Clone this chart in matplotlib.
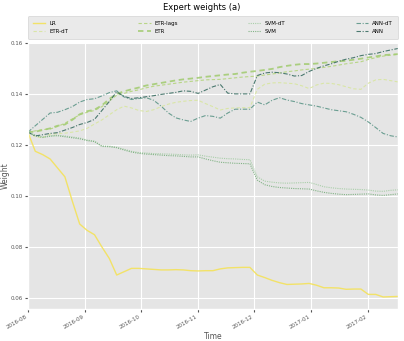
import numpy as np
import pandas as pd
import matplotlib
matplotlib.use("Agg")
import matplotlib.pyplot as plt
import matplotlib.dates as mdates

# sample dates (every 4 days from Aug 1 2016)
dates = pd.date_range("2016-08-01", periods=51, freq="4D")

lr = [0.125, 0.1175, 0.1162, 0.1145, 0.111, 0.1075, 0.098, 0.089, 0.0865, 0.0848,
      0.080, 0.0755, 0.069, 0.0703, 0.0716, 0.0716, 0.0714, 0.0712, 0.071, 0.071,
      0.0711, 0.071, 0.0707, 0.0706, 0.0707, 0.0707, 0.0714, 0.0718, 0.0719, 0.072,
      0.072, 0.069, 0.068, 0.0669, 0.066, 0.0653, 0.0654, 0.0655, 0.0657, 0.065,
      0.064, 0.064, 0.0639, 0.0634, 0.0635, 0.0635, 0.0614, 0.0614, 0.0604, 0.0605, 0.0606]
etr_dt = [0.125, 0.1232, 0.1228, 0.1242, 0.1244, 0.1246, 0.125, 0.1255, 0.1265, 0.1282,
          0.1298, 0.1318, 0.1338, 0.1352, 0.1345, 0.1335, 0.1331, 0.1338, 0.135, 0.136,
          0.1367, 0.1371, 0.1374, 0.1375, 0.1362, 0.135, 0.1337, 0.1343, 0.1345, 0.1346,
          0.1346, 0.1418, 0.1438, 0.1443, 0.1444, 0.1442, 0.144, 0.1432, 0.1421, 0.1435,
          0.1442, 0.1441, 0.1436, 0.1428, 0.142, 0.1418, 0.1442, 0.1455, 0.1457, 0.1452, 0.1447]
etr_lags = [0.125, 0.1255, 0.126, 0.1262, 0.1272, 0.1285, 0.1302, 0.1318, 0.1328, 0.1335,
            0.135, 0.1372, 0.1395, 0.1402, 0.141, 0.1416, 0.1424, 0.143, 0.1434, 0.1438,
            0.1442, 0.1446, 0.1449, 0.1452, 0.1455, 0.1456, 0.1457, 0.146, 0.1463, 0.1466,
            0.1468, 0.147, 0.1474, 0.1478, 0.1482, 0.1487, 0.149, 0.1494, 0.1497, 0.15,
            0.1504, 0.1508, 0.1513, 0.1518, 0.1522, 0.1526, 0.1535, 0.1542, 0.1548, 0.1552, 0.1555]
etr = [0.125, 0.1252, 0.1258, 0.1265, 0.1275, 0.128, 0.1298, 0.132, 0.1332, 0.1338,
       0.1355, 0.138, 0.140, 0.141, 0.1418, 0.1425, 0.1433, 0.1438, 0.1443, 0.1448,
       0.1453, 0.1457, 0.146, 0.1463, 0.1467, 0.147, 0.1473, 0.1476, 0.1478, 0.1483,
       0.1487, 0.149, 0.1494, 0.1498, 0.1505, 0.151, 0.1514, 0.1517, 0.1517, 0.1519,
       0.1522, 0.1525, 0.1528, 0.153, 0.1534, 0.1538, 0.1543, 0.1547, 0.1552, 0.1554, 0.1556]
svm_dt = [0.125, 0.1238, 0.1232, 0.1236, 0.1238, 0.1235, 0.1231, 0.1227, 0.1219, 0.1215,
          0.1196, 0.1195, 0.1191, 0.1183, 0.1175, 0.117, 0.1168, 0.1166, 0.1165, 0.1164,
          0.1163, 0.1161, 0.116, 0.1161, 0.1156, 0.1152, 0.1148, 0.1146, 0.1145, 0.1143,
          0.1142, 0.1075, 0.1058, 0.1054, 0.1051, 0.105, 0.1051, 0.1052, 0.1053, 0.1045,
          0.1036, 0.1032, 0.1029, 0.1027, 0.1026, 0.1025, 0.1023, 0.1019, 0.1018, 0.1022, 0.1024]
svm = [0.125, 0.1236, 0.1229, 0.1234, 0.1236, 0.1232, 0.1228, 0.1224, 0.1217, 0.1213,
       0.1194, 0.1193, 0.1189, 0.118, 0.1172, 0.1167, 0.1164, 0.1162, 0.116, 0.1158,
       0.1157, 0.1155, 0.1153, 0.1153, 0.1145, 0.1138, 0.1132, 0.113, 0.1128, 0.1127,
       0.1126, 0.1062, 0.1044, 0.1037, 0.1033, 0.1031, 0.1029, 0.1028, 0.1027, 0.102,
       0.1014, 0.101, 0.1007, 0.1005, 0.1006, 0.1007, 0.1008, 0.1004, 0.1002, 0.1005, 0.1008]
ann_dt = [0.125, 0.1275, 0.130, 0.1325, 0.1328, 0.1338, 0.135, 0.1368, 0.1378, 0.1381,
          0.1392, 0.1405, 0.1412, 0.1388, 0.1378, 0.1382, 0.1385, 0.1375, 0.1352, 0.1325,
          0.1306, 0.1298, 0.1292, 0.1305, 0.1315, 0.1312, 0.1305, 0.1325, 0.134, 0.134,
          0.134, 0.1368, 0.1357, 0.1375, 0.1385, 0.1376, 0.137, 0.1362, 0.1357, 0.1352,
          0.1345, 0.1338, 0.1334, 0.133, 0.132, 0.1308, 0.129, 0.1268, 0.1245, 0.1236, 0.1231]
ann = [0.125, 0.1235, 0.124, 0.1245, 0.1248, 0.1258, 0.1268, 0.128, 0.1288, 0.130,
       0.1335, 0.137, 0.1408, 0.139, 0.1382, 0.1385, 0.1389, 0.1393, 0.1398, 0.1402,
       0.1406, 0.1412, 0.141, 0.1402, 0.1415, 0.1428, 0.1437, 0.1403, 0.140, 0.140,
       0.140, 0.1472, 0.1482, 0.1485, 0.1483, 0.1478, 0.147, 0.1472, 0.1488, 0.150,
       0.151, 0.1518, 0.1528, 0.1536, 0.1542, 0.155, 0.1555, 0.1558, 0.1566, 0.1572, 0.1578]

labels = ["LR", "ETR-dT", "ETR-lags", "ETR", "SVM-dT", "SVM", "ANN-dT", "ANN"]
series = [lr, etr_dt, etr_lags, etr, svm_dt, svm, ann_dt, ann]
colors = ["#f4e25a", "#d8e5a0", "#b3d47c", "#a4cc74", "#a3cca3", "#78ae7c", "#5d9688", "#3a6d62"]
styles = ["-", (0, (3, 2)), (0, (3, 2)), (0, (3, 2)), (0, (1, 1)), (0, (1, 1)), (0, (4, 1.5, 1, 1.5)), (0, (4, 1.5, 1, 1.5))]
widths = [1.0, 0.8, 0.8, 1.3, 0.8, 0.8, 0.8, 0.8]

plt.style.use("ggplot")
fig = plt.figure(figsize=(4.04, 3.41), dpi=100)
ax = fig.add_axes([0.069, 0.094, 0.916, 0.784])

for vals, lab, c, ls, lw in zip(series, labels, colors, styles, widths):
  ax.plot(dates, vals, color=c, linestyle=ls, linewidth=lw, label=lab, alpha=0.9)

ax.set_xlim(dates[0], dates[-1])
ax.set_ylim(0.0557, 0.1605)
ax.set_yticks([0.06, 0.08, 0.10, 0.12, 0.14, 0.16])
ax.yaxis.set_major_formatter(plt.FormatStrFormatter("%.2f"))
ax.xaxis.set_major_locator(mdates.MonthLocator())
ax.xaxis.set_major_formatter(mdates.DateFormatter("%Y-%m"))
ax.tick_params(labelsize=4, length=2, pad=1.5, colors="#555555")
for t in ax.get_xticklabels():
  t.set_rotation(30)
  t.set_ha("right")
ax.set_xlabel("Time", fontsize=5.5, color="#555555", labelpad=2)
ax.set_ylabel("Weight", fontsize=5.5, color="#555555")
ax.yaxis.set_label_coords(-0.05, 0.5)

ax.legend(ncol=4, mode="expand", loc="lower left", bbox_to_anchor=(0, 1.01, 1, 0.09),
          fontsize=4, borderaxespad=0, handlelength=2.2, borderpad=0.9,
          labelspacing=0.6, frameon=True)
fig.suptitle("Expert weights (a)", fontsize=6, y=0.99)

fig.savefig("out.png", dpi=100)
